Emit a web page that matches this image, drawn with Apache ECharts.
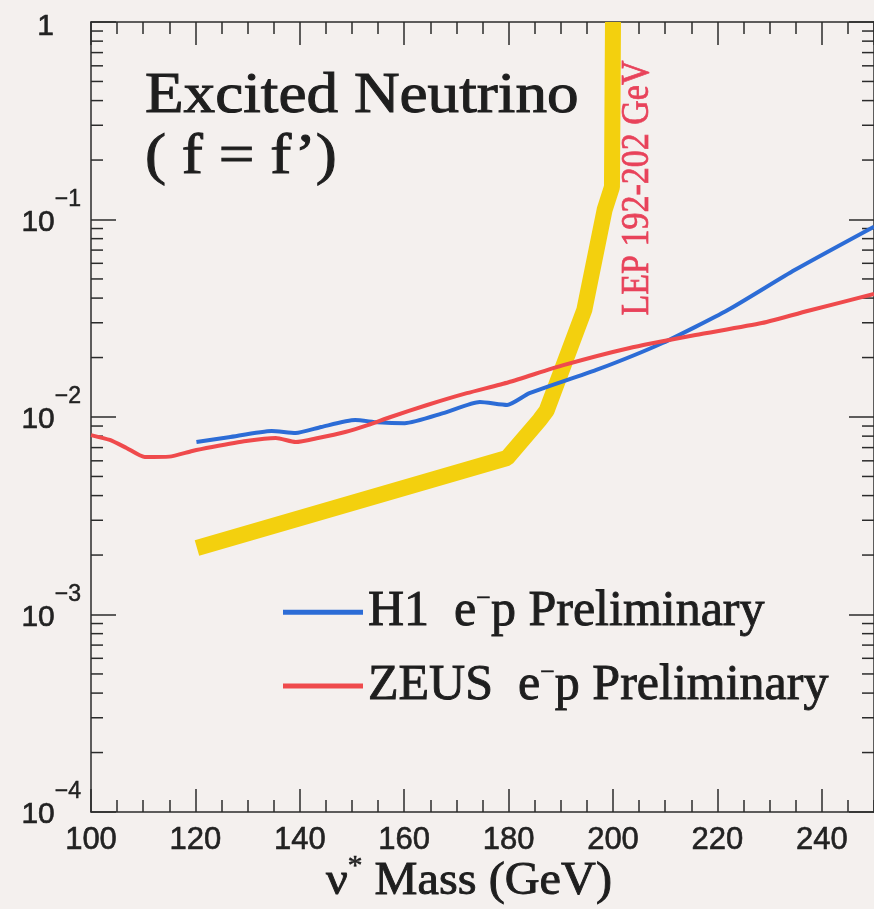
<!DOCTYPE html>
<html>
<head>
<meta charset="utf-8">
<script src="https://cdn.jsdelivr.net/npm/echarts@6/dist/echarts.min.js"></script>
<style>
html, body { margin: 0; padding: 0; background: #f4f0ee; }
#chart { width: 874px; height: 909px; }
</style>
</head>
<body>
<div id="chart"></div>
<script>
// axis ranges
var xMin = 100, xMax = 250;
var yMin = 1e-4, yMax = 1;
// minor ticks of the log axis (2..9 x 10^n)
var yMinorTicks = [
    2e-4, 3e-4, 4e-4, 5e-4, 6e-4, 7e-4, 8e-4, 9e-4,
    2e-3, 3e-3, 4e-3, 5e-3, 6e-3, 7e-3, 8e-3, 9e-3,
    2e-2, 3e-2, 4e-2, 5e-2, 6e-2, 7e-2, 8e-2, 9e-2,
    0.2, 0.3, 0.4, 0.5, 0.6, 0.7, 0.8, 0.9
];

// H1 e-p preliminary limit
var h1Mass  = [120.2, 126.4, 134.6, 139.2, 144.1, 150.6, 154.9, 160.1, 167.7, 174.5, 179.7, 184, 196.8, 209.5, 222, 234.8, 250];
var h1Limit = [7.47e-3, 7.9e-3, 8.5e-3, 8.3e-3, 8.9e-3, 9.65e-3, 9.4e-3, 9.3e-3, 1.05e-2, 1.19e-2, 1.15e-2, 1.32e-2, 1.73e-2, 2.37e-2, 3.48e-2, 5.55e-2, 9.2e-2];

// ZEUS e-p preliminary limit
var zeusMass  = [100, 103.6, 106.8, 110.3, 115, 119.4, 123.2, 129.7, 135.4, 139.2, 143.5, 148.7, 153, 157.4, 164.4, 172, 180, 190.5, 203, 215.8, 228.5, 238, 250];
var zeusLimit = [8.1e-3, 7.65e-3, 6.97e-3, 6.27e-3, 6.3e-3, 6.73e-3, 7.05e-3, 7.56e-3, 7.83e-3, 7.47e-3, 7.83e-3, 8.4e-3, 9.1e-3, 1.0e-2, 1.15e-2, 1.32e-2, 1.5e-2, 1.83e-2, 2.23e-2, 2.6e-2, 2.99e-2, 3.48e-2, 4.2e-2];

// LEP 192-202 GeV limit
var lepMass  = [120.3, 179.7, 186, 187.3, 194.5, 198.4, 199.8, 200];
var lepLimit = [2.17e-3, 6.2e-3, 9.7e-3, 1.08e-2, 3.48e-2, 0.112, 0.146, 1];

var SERIF = '"Liberation Serif", "Times New Roman", serif';
var SANS = '"Liberation Sans", Arial, sans-serif';
var AXIS = '#2b2b2b';
var INK = '#1e1e1e';
var BLUE = '#2c6cd6';
var RED = '#ef4a4c';
var YELLOW = '#f3d00e';
var LEPRED = '#e8425a';

function pairs(xs, ys) {
    var out = [];
    for (var i = 0; i < xs.length; i++) {
        out.push([xs[i], ys[i]]);
    }
    return out;
}

function yLabel(v) {
    var e = Math.round(Math.log10(v));
    if (e === 0) {
        return '{one|1}';
    }
    return '{b|10}{s|\u2212' + (-e) + '}';
}

function tickStyle() {
    return { color: AXIS, width: 1.5 };
}

// slightly heavier glyphs, like the scanned original
function ink(color, w) {
    return { textBorderColor: color, textBorderWidth: w };
}

var chart = echarts.init(document.getElementById('chart'));

chart.setOption({
    animation: false,
    backgroundColor: '#f4f0ee',
    grid: { left: 91, top: 22, width: 788, height: 790 },
    legend: {
        orient: 'vertical',
        left: 278,
        top: 581,
        itemWidth: 80,
        itemHeight: 5,
        itemGap: 22,
        icon: 'rect',
        data: ['H1', 'ZEUS'],
        formatter: function(name) {
            return '{n|' + name + '  e}{s|\u2212}{n|p Preliminary}';
        },
        textStyle: {
            fontFamily: SERIF,
            fontSize: 50,
            color: INK,
            rich: {
                n: echarts.util.extend({ fontFamily: SERIF, fontSize: 50, lineHeight: 52, color: INK }, ink(INK, 0.9)),
                s: echarts.util.extend({ fontFamily: SERIF, fontSize: 26, padding: [0, 0, 26, 0], color: INK }, ink(INK, 0.6))
            }
        }
    },
    xAxis: [{
        type: 'value', position: 'bottom', min: xMin, max: xMax, interval: 20,
        axisLine: { show: true, lineStyle: tickStyle() },
        axisTick: { inside: true, length: 23, lineStyle: tickStyle() },
        axisLabel: echarts.util.extend({ fontFamily: SANS, fontSize: 31, color: '#222', margin: 13, showMaxLabel: false }, ink('#222', 0.6)),
        splitLine: { show: false }
    }, {
        type: 'value', position: 'bottom', min: xMin, max: xMax, interval: 5,
        axisLine: { show: false },
        axisTick: { inside: true, length: 12, lineStyle: tickStyle() },
        axisLabel: { show: false },
        splitLine: { show: false }
    }, {
        type: 'value', position: 'top', min: xMin, max: xMax, interval: 20,
        axisLine: { show: true, lineStyle: tickStyle() },
        axisTick: { inside: true, length: 23, lineStyle: tickStyle() },
        axisLabel: { show: false },
        splitLine: { show: false }
    }, {
        type: 'value', position: 'top', min: xMin, max: xMax, interval: 5,
        axisLine: { show: false },
        axisTick: { inside: true, length: 12, lineStyle: tickStyle() },
        axisLabel: { show: false },
        splitLine: { show: false }
    }],
    yAxis: [{
        type: 'log', logBase: 10, position: 'left', min: yMin, max: yMax, splitNumber: 4,
        axisLine: { show: true, lineStyle: tickStyle() },
        axisTick: { inside: true, length: 25, lineStyle: tickStyle() },
        axisLabel: {
            margin: 10,
            formatter: yLabel,
            rich: {
                one: echarts.util.extend({ fontFamily: SANS, fontSize: 30, color: '#222', padding: [10, 27, 0, 0] }, ink('#222', 0.6)),
                b: echarts.util.extend({ fontFamily: SANS, fontSize: 30, color: '#222', padding: [6, 0, 0, 0] }, ink('#222', 0.6)),
                s: echarts.util.extend({ fontFamily: SANS, fontSize: 23, color: '#222', padding: [0, 0, 40, 0] }, ink('#222', 0.5))
            }
        },
        splitLine: { show: false }
    }, {
        type: 'log', logBase: 10, position: 'right', min: yMin, max: yMax, splitNumber: 4,
        axisLine: { show: true, lineStyle: tickStyle() },
        axisTick: { inside: true, length: 25, lineStyle: tickStyle() },
        axisLabel: { show: false },
        splitLine: { show: false }
    }],
    graphic: [{
        type: 'text', x: 145, y: 97, scaleX: 1.09,
        style: { text: 'Excited Neutrino', fontFamily: SERIF, fontSize: 58, fill: INK, stroke: INK, lineWidth: 1, align: 'left', verticalAlign: 'middle' }
    }, {
        type: 'text', x: 145, y: 158, scaleX: 1.09,
        style: { text: '( f = f\u2019)', fontFamily: SERIF, fontSize: 58, fill: INK, stroke: INK, lineWidth: 1, align: 'left', verticalAlign: 'middle' }
    }, {
        type: 'text', x: 637, y: 188, rotation: Math.PI / 2, scaleY: 1.2,
        style: { text: 'LEP 192-202 GeV', fontFamily: SERIF, fontSize: 34, fill: LEPRED, stroke: LEPRED, lineWidth: 0.6, align: 'center', verticalAlign: 'middle' }
    }, {
        type: 'text', x: 469, y: 882, scaleX: 1.05,
        style: {
            text: '{n|\u03bd}{s|*}{n| Mass (GeV)}',
            align: 'center', verticalAlign: 'middle',
            rich: {
                n: { fontFamily: SERIF, fontSize: 46, fill: INK, stroke: INK, lineWidth: 0.9 },
                s: { fontFamily: SERIF, fontSize: 28, fill: INK, stroke: INK, lineWidth: 0.6, padding: [0, 0, 30, 0] }
            }
        }
    }],
    series: [{
        name: 'LEP',
        type: 'line',
        data: pairs(lepMass, lepLimit),
        symbol: 'none',
        color: YELLOW,
        lineStyle: { color: YELLOW, width: 16 },
        z: 1,
        silent: true
    }, {
        name: 'H1',
        type: 'line',
        data: pairs(h1Mass, h1Limit),
        symbol: 'none',
        smooth: 0.2,
        color: BLUE,
        lineStyle: { color: BLUE, width: 4 },
        z: 3
    }, {
        name: 'ZEUS',
        type: 'line',
        data: pairs(zeusMass, zeusLimit),
        symbol: 'none',
        smooth: 0.2,
        color: RED,
        lineStyle: { color: RED, width: 4 },
        z: 3
    }, {
        // minor ticks on the left and right log axes
        type: 'custom',
        silent: true,
        clip: false,
        data: yMinorTicks.map(function(v) { return [xMin, v]; }),
        renderItem: function(params, api) {
            var v = api.value(1);
            var l = api.coord([xMin, v]);
            var r = api.coord([xMax, v]);
            return {
                type: 'group',
                children: [{
                    type: 'line',
                    shape: { x1: l[0], y1: l[1], x2: l[0] + 12, y2: l[1] },
                    style: { stroke: AXIS, lineWidth: 1.5 }
                }, {
                    type: 'line',
                    shape: { x1: r[0] - 12, y1: r[1], x2: r[0], y2: r[1] },
                    style: { stroke: AXIS, lineWidth: 1.5 }
                }]
            };
        }
    }]
});
</script>
</body>
</html>
